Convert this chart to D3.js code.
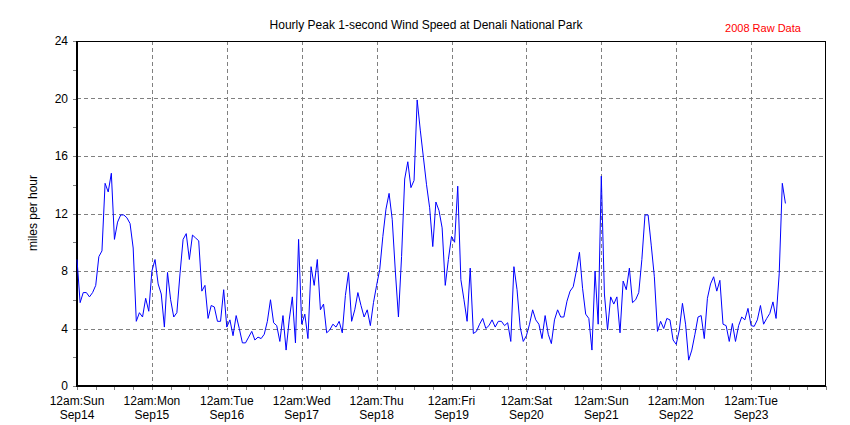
<!DOCTYPE html>
<html>
<head>
<meta charset="utf-8">
<script src="https://cdn.jsdelivr.net/npm/d3@7"></script>
<style>
  body { margin: 0; background: #fff; }
  svg { font-family: "Liberation Sans", Arial, sans-serif; }
</style>
</head>
<body>
<div id="chart"></div>
<script>
// hourly peak wind speed (mph), hour 0 = 12am Sun Sep14
var windSpeed = [
  8.8, 5.8, 6.5, 6.5, 6.2, 6.5, 7.0, 9.0, 9.4, 14.1,
  13.5, 14.8, 10.2, 11.4, 11.9, 11.9, 11.7, 11.3, 9.6, 4.5,
  5.1, 4.8, 6.1, 5.2, 8.0, 8.8, 7.1, 6.4, 4.1, 7.9,
  6.0, 4.8, 5.1, 7.8, 10.2, 10.6, 8.8, 10.5, 10.3, 10.1,
  6.6, 7.0, 4.7, 5.6, 5.5, 4.5, 4.5, 6.7, 4.1, 4.6,
  3.5, 4.9, 4.0, 3.0, 3.0, 3.4, 3.8, 3.2, 3.4, 3.3,
  3.6, 4.5, 6.0, 4.4, 4.2, 3.1, 4.9, 2.5, 4.6, 6.2,
  3.0, 10.2, 4.3, 5.0, 3.3, 8.3, 7.0, 8.8, 5.3, 5.7,
  3.7, 3.9, 4.3, 4.1, 4.5, 3.7, 6.3, 7.9, 4.5, 5.3,
  6.5, 5.6, 4.8, 5.3, 4.2, 5.8, 7.0, 8.1, 10.4, 12.3,
  13.4, 11.6, 8.0, 4.8, 9.0, 14.4, 15.6, 13.8, 14.3, 19.9,
  17.8, 15.9, 14.0, 12.4, 9.7, 12.8, 12.2, 11.0, 7.0, 8.8,
  10.4, 10.0, 13.9, 7.4, 6.0, 4.5, 8.2, 3.65, 3.8, 4.3,
  4.7, 4.0, 4.2, 4.6, 4.1, 4.5, 4.5, 4.2, 4.4, 3.1,
  8.3, 6.7, 4.1, 3.1, 3.5, 4.3, 5.3, 4.6, 4.3, 3.3,
  4.9, 3.6, 2.95, 4.6, 5.3, 4.8, 4.8, 5.9, 6.6, 6.9,
  8.0, 9.3, 6.8, 5.0, 4.7, 2.5, 8.0, 4.3, 14.6, 6.4,
  3.9, 6.2, 5.7, 6.2, 3.7, 7.3, 6.7, 8.2, 5.8, 6.0,
  6.5, 8.8, 11.9, 11.9, 9.8, 7.6, 3.8, 4.5, 4.0, 4.7,
  4.6, 3.2, 2.9, 3.9, 5.75, 4.3, 1.8, 2.5, 3.6, 4.8,
  4.9, 3.3, 6.1, 7.1, 7.6, 6.6, 7.35, 4.3, 4.2, 3.1,
  4.35, 3.1, 4.2, 4.8, 4.6, 5.4, 4.2, 4.15, 4.6, 5.6,
  4.3, 4.7, 5.05, 5.85, 4.7, 7.8, 14.1, 12.7
];
var dayLabels = ["12am:Sun", "12am:Mon", "12am:Tue", "12am:Wed", "12am:Thu",
                 "12am:Fri", "12am:Sat", "12am:Sun", "12am:Mon", "12am:Tue"];
var dateLabels = ["Sep14", "Sep15", "Sep16", "Sep17", "Sep18",
                  "Sep19", "Sep20", "Sep21", "Sep22", "Sep23"];
var yTicks = [0, 4, 8, 12, 16, 20, 24];
var totalHours = 240;

var margin = { top: 41, right: 24, bottom: 39, left: 77 },
    width = 850 - margin.left - margin.right,
    height = 425 - margin.top - margin.bottom;

var svg = d3.select("#chart")
    .append("svg")
    .attr("width", 850)
    .attr("height", 425);

var g = svg.append("g")
    .attr("transform", "translate(" + margin.left + "," + margin.top + ")");

var x = d3.scaleLinear().domain([0, totalHours]).range([0, width]);
var y = d3.scaleLinear().domain([0, 24]).range([height, 0]);

var dayHours = dayLabels.map(function (d, i) { return i * 24; });

// gridlines
g.append("g")
    .attr("class", "grid")
    .selectAll("line")
    .data(dayHours.slice(1))
    .enter().append("line")
    .attr("x1", function (d) { return Math.round(x(d)) + 0.5; })
    .attr("x2", function (d) { return Math.round(x(d)) + 0.5; })
    .attr("y1", 0)
    .attr("y2", height);
g.append("g")
    .attr("class", "grid")
    .selectAll("line")
    .data(yTicks.slice(1, -1))
    .enter().append("line")
    .attr("x1", 0)
    .attr("x2", width)
    .attr("y1", function (d) { return Math.round(y(d)) + 0.5; })
    .attr("y2", function (d) { return Math.round(y(d)) + 0.5; });
g.selectAll(".grid line")
    .attr("stroke", "#808080")
    .attr("stroke-dasharray", "4,3")
    .attr("shape-rendering", "crispEdges");

// ticks (grey, outside)
var yAxis = d3.axisLeft(y)
    .tickValues(d3.range(0, 25, 2))
    .tickSize(4)
    .tickFormat("");
g.append("g").call(yAxis)
    .call(function (a) { a.select(".domain").remove(); })
    .selectAll("line").attr("stroke", "#808080").attr("shape-rendering", "crispEdges");

var xAxis = d3.axisBottom(x)
    .tickValues(d3.range(0, totalHours + 1, 6))
    .tickSize(4)
    .tickFormat("");
g.append("g")
    .attr("transform", "translate(0," + height + ")")
    .call(xAxis)
    .call(function (a) { a.select(".domain").remove(); })
    .selectAll("line").attr("stroke", "#808080").attr("shape-rendering", "crispEdges");

// frame: thick left/bottom, thin top/right
g.append("line").attr("x1", 0).attr("x2", width).attr("y1", 0.5).attr("y2", 0.5)
    .attr("stroke", "#000").attr("shape-rendering", "crispEdges");
g.append("line").attr("x1", width - 0.5).attr("x2", width - 0.5).attr("y1", 0).attr("y2", height)
    .attr("stroke", "#000").attr("shape-rendering", "crispEdges");
g.append("line").attr("x1", 0).attr("x2", 0).attr("y1", 0).attr("y2", height + 1)
    .attr("stroke", "#000").attr("stroke-width", 2).attr("shape-rendering", "crispEdges");
g.append("line").attr("x1", -1).attr("x2", width).attr("y1", height).attr("y2", height)
    .attr("stroke", "#000").attr("stroke-width", 2).attr("shape-rendering", "crispEdges");

// y labels
g.append("g")
    .selectAll("text")
    .data(yTicks)
    .enter().append("text")
    .attr("x", -9)
    .attr("y", function (d) { return y(d) + 4; })
    .attr("text-anchor", "end")
    .attr("font-size", 12)
    .text(function (d) { return d; });

// x labels, two lines
var xl = g.append("g")
    .selectAll("text")
    .data(dayHours)
    .enter().append("text")
    .attr("text-anchor", "middle")
    .attr("font-size", 12);
xl.append("tspan")
    .attr("x", function (d) { return x(d); })
    .attr("y", height + 19)
    .text(function (d, i) { return dayLabels[i]; });
xl.append("tspan")
    .attr("x", function (d) { return x(d); })
    .attr("y", height + 33)
    .text(function (d, i) { return dateLabels[i]; });

// wind line
var line = d3.line()
    .x(function (d, i) { return x(i); })
    .y(function (d) { return y(d); });
g.append("path")
    .datum(windSpeed)
    .attr("fill", "none")
    .attr("stroke", "#0000ff")
    .attr("stroke-width", 1)
    .attr("d", line);

// titles
svg.append("text")
    .attr("x", 426)
    .attr("y", 29)
    .attr("text-anchor", "middle")
    .attr("font-size", 12)
    .text("Hourly Peak 1-second Wind Speed at Denali National Park");
svg.append("text")
    .attr("x", 763)
    .attr("y", 32)
    .attr("text-anchor", "middle")
    .attr("font-size", 11)
    .attr("fill", "#ff0000")
    .text("2008 Raw Data");
svg.append("text")
    .attr("transform", "translate(37,213) rotate(-90)")
    .attr("text-anchor", "middle")
    .attr("font-size", 12)
    .text("miles per hour");
</script>
</body>
</html>
